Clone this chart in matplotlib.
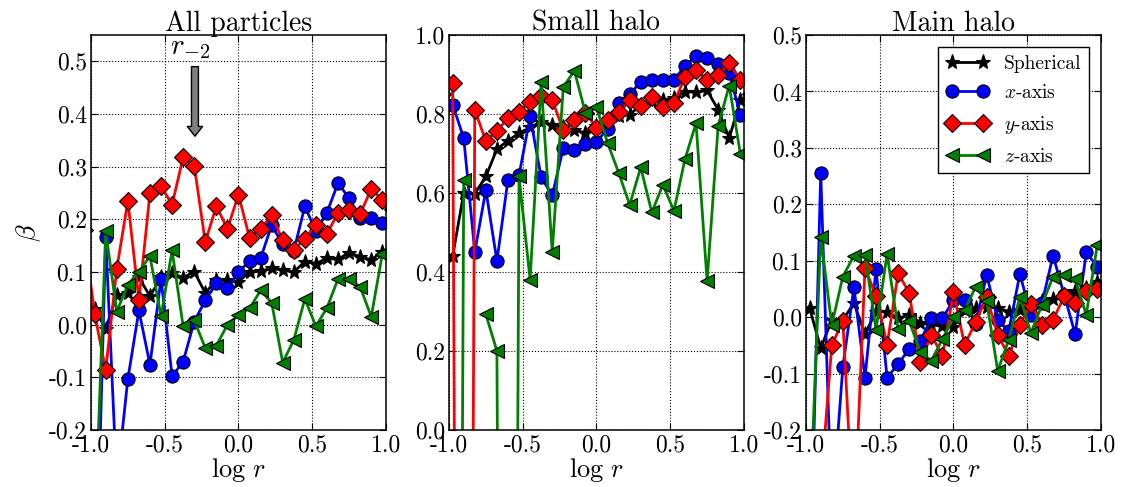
import numpy as np
import matplotlib
matplotlib.use("Agg")
import matplotlib.pyplot as plt

plt.rcParams['font.family'] = 'serif'
plt.rcParams['font.serif'] = ['cmr10', 'DejaVu Serif']
plt.rcParams['mathtext.fontset'] = 'cm'
plt.rcParams['axes.formatter.use_mathtext'] = True
plt.rcParams['axes.unicode_minus'] = True

# bin centres in log r
logr = np.round(np.arange(-1.05, 1.06, 0.075), 3)

titles = ["All particles", "Small halo", "Main halo"]
labels = ["Spherical", r"$x$-axis", r"$y$-axis", r"$z$-axis"]

# --- All particles ---
all_sph = [0.05, 0.03, -0.008, 0.056, 0.06, 0.09, 0.054, 0.09, 0.098, 0.089, 0.101,
           0.06, 0.085, 0.085, 0.082, 0.10, 0.102, 0.107, 0.104, 0.10, 0.12, 0.116,
           0.126, 0.124, 0.137, 0.129, 0.123, 0.139, 0.15]
all_x = [-0.4, -0.6, 0.166, -0.3, -0.103, 0.027, -0.076, 0.087, -0.098, -0.07, 0.006,
         0.046, 0.079, 0.069, 0.10, 0.121, 0.126, 0.189, 0.153, 0.14, 0.225, 0.177,
         0.213, 0.269, 0.24, 0.203, 0.203, 0.193, 0.19]
all_y = [0.18, 0.02, -0.086, 0.106, 0.235, 0.047, 0.25, 0.263, 0.228, 0.318, 0.302,
         0.157, 0.225, 0.182, 0.247, 0.165, 0.182, 0.208, 0.16, 0.142, 0.163, 0.19,
         0.173, 0.212, 0.218, 0.21, 0.258, 0.237, 0.22]
all_z = [-0.4, -0.4, 0.177, 0.025, 0.076, 0.101, 0.13, 0.016, 0.141, -0.003, 0.008,
         -0.044, -0.040, 0.0, 0.018, 0.031, 0.065, 0.042, -0.072, -0.029, 0.049, -0.003,
         0.032, 0.087, 0.087, 0.072, 0.015, 0.134, 0.15]

# --- Small halo ---
small_sph = [0.4, 0.44, 0.60, 0.598, 0.642, 0.711, 0.733, 0.751, 0.766, 0.781, 0.773,
             0.766, 0.76, 0.752, 0.769, 0.781, 0.796, 0.798, 0.824, 0.832, 0.836, 0.84,
             0.857, 0.855, 0.86, 0.811, 0.739, 0.835, 0.85]
small_x = [0.85, 0.824, 0.739, 0.451, 0.608, 0.428, 0.634, 0.645, 0.794, 0.64, 0.594,
           0.714, 0.708, 0.725, 0.729, 0.763, 0.828, 0.851, 0.881, 0.887, 0.887, 0.887,
           0.921, 0.948, 0.942, 0.927, 0.904, 0.798, 0.8]
small_y = [0.85, 0.878, -5.0, 0.811, 0.731, 0.758, 0.789, 0.806, 0.831, 0.845, 0.835,
           0.759, 0.786, 0.803, 0.765, 0.784, 0.804, 0.836, 0.821, 0.842, 0.819, 0.828,
           0.894, 0.912, 0.887, 0.90, 0.929, 0.887, 0.85]
small_z = [-5.0, -5.0, 0.634, np.nan, 0.293, 0.20, -5.0, 0.642, 0.38, 0.88, 0.451,
           0.868, 0.91, 0.803, 0.817, 0.727, 0.652, 0.57, 0.665, 0.551, 0.621, 0.555,
           0.686, 0.777, 0.377, 0.771, 0.872, 0.70, 0.7]

# --- Main halo ---
main_sph = [0.0, 0.016, -0.055, -0.005, -0.005, 0.025, -0.03, 0.01, 0.01, -0.002, 0.004,
            -0.01, -0.014, -0.015, -0.017, 0.013, 0.016, 0.018, 0.016, 0.01, 0.013, 0.022,
            0.028, 0.033, 0.034, 0.046, 0.051, 0.063, 0.07]
main_x = [-0.5, -0.5, 0.256, -0.35, -0.088, 0.053, -0.107, 0.085, -0.107, -0.083, -0.056,
          -0.042, -0.002, -0.002, 0.03, 0.03, -0.012, 0.075, -0.005, -0.025, 0.077, 0.003,
          0.025, 0.109, 0.04, -0.03, 0.115, 0.089, 0.09]
main_y = [-0.5, -0.5, -0.3, -0.05, -0.006, -0.38, 0.087, 0.038, -0.049, 0.078, 0.043,
          -0.08, -0.031, -0.069, 0.044, -0.049, -0.009, 0.036, -0.031, -0.069, -0.014, 0.024,
          -0.014, -0.005, 0.037, 0.026, 0.046, 0.05, 0.055]
main_z = [-0.5, -0.35, 0.142, -0.014, 0.072, 0.109, 0.111, -0.022, 0.112, -0.021, -0.007,
          -0.062, -0.077, -0.039, 0.0, 0.012, 0.054, 0.028, -0.095, -0.04, 0.036, -0.028,
          0.022, 0.072, 0.075, 0.067, 0.004, 0.128, 0.13]

panels = [
    (all_sph, all_x, all_y, all_z),
    (small_sph, small_x, small_y, small_z),
    (main_sph, main_x, main_y, main_z),
]
ylims = [(-0.2, 0.55), (0.0, 1.0), (-0.2, 0.5)]
yticks = [np.arange(-0.2, 0.51, 0.1), np.arange(0.0, 1.01, 0.2), np.arange(-0.2, 0.51, 0.1)]

styles = [
    dict(color='k', marker='*', markersize=11),
    dict(color='b', marker='o', markersize=9.5),
    dict(color='r', marker='D', markersize=9),
    dict(color='g', marker='<', markersize=10),
]

fig = plt.figure(figsize=(11.23, 4.87), dpi=100)
lefts = [0.081, 0.3998, 0.7177]
axes = [fig.add_axes([l, 0.117, 0.2627, 0.811]) for l in lefts]

for i, ax in enumerate(axes):
    for vals, st, lab in zip(panels[i], styles, labels):
        ax.plot(logr, vals, linewidth=2.0, markeredgecolor='k', markeredgewidth=0.8,
                label=lab, **st)
    ax.set_xlim(-1, 1)
    ax.set_ylim(*ylims[i])
    ax.set_xticks([-1.0, -0.5, 0.0, 0.5, 1.0])
    ax.set_yticks(yticks[i])
    ax.xaxis.set_major_formatter(matplotlib.ticker.FormatStrFormatter('%.1f'))
    ax.yaxis.set_major_formatter(matplotlib.ticker.FormatStrFormatter('%.1f'))
    ax.grid(True, linestyle=':', color='k', linewidth=0.8)
    ax.tick_params(direction='in', top=True, right=True, labelsize=17, length=5, pad=3)
    for sp in ax.spines.values():
        sp.set_linewidth(1.1)
    ax.set_title(titles[i], fontsize=20, pad=3)
    ax.set_xlabel(r'$\log\,r$', fontsize=19, labelpad=0)

axes[0].set_ylabel(r'$\beta$', fontsize=20)

axes[0].annotate('', xy=(-0.295, 0.358), xytext=(-0.295, 0.49),
                 arrowprops=dict(facecolor='0.5', edgecolor='k', width=5,
                                 headwidth=11, headlength=7, shrink=0.0))
axes[0].text(-0.33, 0.525, r'$r_{-2}$', fontsize=21, ha='center', va='center')

axes[2].legend(loc='upper right', numpoints=2, fontsize=14, fancybox=False,
               framealpha=1, edgecolor='k', borderaxespad=0.6, handlelength=2.2,
               labelspacing=0.6)

fig.savefig('out.png', dpi=100)
